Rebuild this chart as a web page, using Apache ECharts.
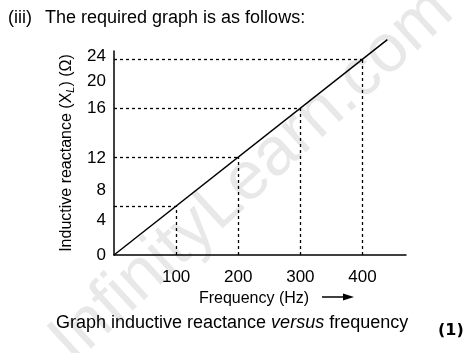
<!DOCTYPE html>
<html>
<head>
<meta charset="utf-8">
<script src="https://cdn.jsdelivr.net/npm/echarts@6/dist/echarts.min.js"></script>
<style>
  html, body { margin: 0; padding: 0; background: #fff; }
  #chart { width: 468px; height: 353px; }
</style>
</head>
<body>
<div id="chart"></div>
<script>
// marked points: frequency (Hz) against inductive reactance (ohm)
const freq = [100, 200, 300, 400];
const reactance = [6, 12, 18, 24];
// the drawn straight line, from the origin past the last point
const lineFreq = [0, 440];
const lineReactance = [0, 26.4];
// y labels as printed and the scale value each one sits at
const yTickText = ["0", "4", "8", "12", "16", "20", "24"];
const yTickAt = [0, 4.3, 7.9, 11.9, 18, 21.3, 24.4];
const xTicks = [100, 200, 300, 400];

const chart = echarts.init(document.getElementById("chart"));
const font = "Liberation Sans, Arial, sans-serif";

let dropLines = [];
freq.forEach((f, i) => {
  dropLines.push([{ coord: [0, reactance[i]] }, { coord: [f, reactance[i]] }]);
  dropLines.push([{ coord: [f, 0] }, { coord: [f, reactance[i]] }]);
});

chart.setOption({
  animation: false,
  textStyle: { fontFamily: font },
  grid: { left: 114, right: 62, top: 51, bottom: 98 },
  xAxis: {
    type: "value",
    min: 0,
    max: 470,
    splitLine: { show: false },
    axisTick: { show: false },
    axisLine: { lineStyle: { color: "#000", width: 1.5 } },
    axisLabel: {
      customValues: xTicks,
      color: "#000",
      fontSize: 17,
      margin: 14,
      fontFamily: font
    },
    name: "Frequency (Hz)",
    nameLocation: "middle",
    nameGap: 36,
    nameTextStyle: { color: "#000", fontSize: 16, fontFamily: font, padding: [0, 12, 0, 0] }
  },
  yAxis: {
    type: "value",
    min: 0,
    max: 25,
    splitLine: { show: false },
    axisTick: { show: false },
    axisLine: { lineStyle: { color: "#000", width: 1.5 } },
    axisLabel: {
      customValues: yTickAt,
      formatter(v) {
        return yTickText[yTickAt.indexOf(v)];
      },
      color: "#000",
      fontSize: 17,
      margin: 8,
      fontFamily: font
    },
    name: "Inductive reactance (X{s|L}) (Ω)",
    nameLocation: "middle",
    nameGap: 31,
    nameTextStyle: {
      color: "#000",
      fontSize: 16,
      fontFamily: font,
      rich: {
        s: { fontSize: 11, fontStyle: "italic", fontFamily: font, padding: [8, 0, 0, 0] }
      }
    }
  },
  graphic: [
    {
      type: "text",
      z: -10,
      rotation: 0.74,
      x: 252,
      y: 176,
      style: {
        text: "InfinityLearn.com",
        fontSize: 68,
        fontFamily: font,
        fill: "#e8e8e8",
        textAlign: "center",
        textVerticalAlign: "middle"
      }
    },
    {
      type: "text",
      left: 8,
      top: 9,
      style: { text: "(iii)", fontSize: 18, fontFamily: font, fill: "#000" }
    },
    {
      type: "text",
      left: 45,
      top: 9,
      style: {
        text: "The required graph is as follows:",
        fontSize: 18,
        fontFamily: font,
        fill: "#000"
      }
    },
    {
      type: "text",
      left: 56,
      top: 314,
      style: {
        text: "Graph inductive reactance {i|versus} frequency",
        fontSize: 18,
        fontFamily: font,
        fill: "#000",
        rich: { i: { fontSize: 18, fontStyle: "italic", fontFamily: font } }
      }
    },
    {
      type: "text",
      left: 438,
      top: 323,
      style: {
        text: "(1)",
        fontSize: 16,
        fontWeight: "bold",
        fontFamily: "DejaVu Sans, sans-serif",
        fill: "#000"
      }
    },
    {
      type: "line",
      shape: { x1: 322, y1: 297, x2: 346, y2: 297 },
      style: { stroke: "#000", lineWidth: 1.5 }
    },
    {
      type: "polygon",
      shape: { points: [[343, 293.5], [354, 297], [343, 300.5]] },
      style: { fill: "#000" }
    }
  ],
  series: [
    {
      type: "line",
      data: lineFreq.map((x, i) => [x, lineReactance[i]]),
      showSymbol: false,
      clip: false,
      lineStyle: { color: "#000", width: 1.5 },
      markLine: {
        silent: true,
        symbol: "none",
        label: { show: false },
        lineStyle: { color: "#000", width: 1.3, type: [3, 3] },
        data: dropLines
      }
    }
  ]
});
</script>
</body>
</html>
